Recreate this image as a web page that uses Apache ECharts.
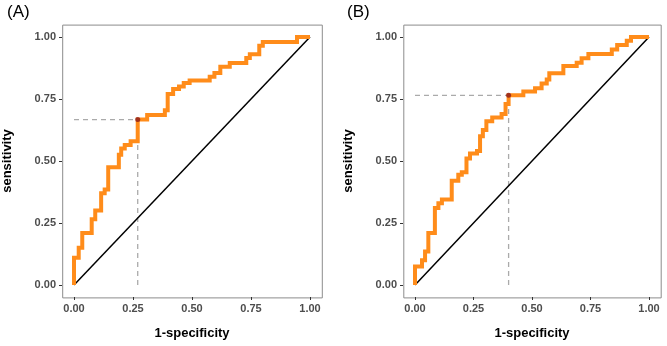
<!DOCTYPE html>
<html>
<head>
<meta charset="utf-8">
<script src="https://cdn.jsdelivr.net/npm/echarts@6/dist/echarts.min.js"></script>
<style>
  html, body { margin: 0; padding: 0; background: #fff; }
  #chart { width: 667px; height: 346px; }
</style>
</head>
<body>
<div id="chart"></div>
<script>
// ROC curve corner points, panel A
const fprA = [0, 0, 0.02, 0.02, 0.035, 0.035, 0.075, 0.075, 0.09, 0.09, 0.115, 0.115, 0.13, 0.13,
  0.145, 0.145, 0.19, 0.19, 0.20, 0.20, 0.215, 0.215, 0.24, 0.24, 0.27, 0.27, 0.31, 0.31,
  0.385, 0.385, 0.397, 0.397, 0.42, 0.42, 0.445, 0.445, 0.465, 0.465, 0.49, 0.49, 0.575, 0.575,
  0.595, 0.595, 0.62, 0.62, 0.66, 0.66, 0.73, 0.73, 0.745, 0.745, 0.785, 0.785, 0.80, 0.80,
  0.945, 0.945, 1];
const tprA = [0, 0.11, 0.11, 0.15, 0.15, 0.21, 0.21, 0.265, 0.265, 0.30, 0.30, 0.37, 0.37, 0.385,
  0.385, 0.475, 0.475, 0.525, 0.525, 0.55, 0.55, 0.565, 0.565, 0.58, 0.58, 0.667, 0.667, 0.685,
  0.685, 0.705, 0.705, 0.77, 0.77, 0.79, 0.79, 0.80, 0.80, 0.815, 0.815, 0.825, 0.825, 0.84,
  0.84, 0.855, 0.855, 0.88, 0.88, 0.895, 0.895, 0.915, 0.915, 0.93, 0.93, 0.965, 0.965, 0.98,
  0.98, 1, 1];
const cutA = [0.27, 0.667];

// panel B
const fprB = [0, 0, 0.03, 0.03, 0.043, 0.043, 0.057, 0.057, 0.085, 0.085, 0.10, 0.10, 0.115, 0.115,
  0.157, 0.157, 0.185, 0.185, 0.20, 0.20, 0.22, 0.22, 0.235, 0.235, 0.265, 0.265, 0.278, 0.278,
  0.29, 0.29, 0.305, 0.305, 0.33, 0.33, 0.37, 0.37, 0.387, 0.387, 0.40, 0.40, 0.463, 0.463,
  0.513, 0.513, 0.541, 0.541, 0.563, 0.563, 0.574, 0.574, 0.634, 0.634, 0.691, 0.691, 0.712, 0.712,
  0.741, 0.741, 0.841, 0.841, 0.864, 0.864, 0.905, 0.905, 0.923, 0.923, 1];
const tprB = [0, 0.075, 0.075, 0.10, 0.10, 0.135, 0.135, 0.21, 0.21, 0.31, 0.31, 0.33, 0.33, 0.345,
  0.345, 0.42, 0.42, 0.445, 0.445, 0.455, 0.455, 0.51, 0.51, 0.53, 0.53, 0.54, 0.54, 0.60,
  0.60, 0.625, 0.625, 0.66, 0.66, 0.675, 0.675, 0.69, 0.69, 0.73, 0.73, 0.765, 0.765, 0.78,
  0.78, 0.793, 0.793, 0.813, 0.813, 0.829, 0.829, 0.854, 0.854, 0.883, 0.883, 0.896, 0.896, 0.914,
  0.914, 0.931, 0.931, 0.95, 0.95, 0.968, 0.968, 0.985, 0.985, 1, 1];
const cutB = [0.40, 0.765];

const panelLabels = ['(A)', '(B)'];

const orange = '#ff8c1a';
const darkred = '#8b1a1a';
const frameColor = '#8c8c8c';
const font = 'Liberation Sans, Arial, Helvetica, sans-serif';

const grids = [
  { left: 74, top: 37, width: 236, height: 248 },
  { left: 415, top: 37, width: 234, height: 248 }
];

function zip(a, b) { return a.map((v, i) => [v, b[i]]); }

function axisCommon(i, name, gap) {
  return {
    gridIndex: i, type: 'value', min: 0, max: 1, interval: 0.25, offset: 12,
    name: name, nameLocation: 'middle', nameGap: gap,
    nameTextStyle: { fontFamily: font, fontSize: 13, fontWeight: 'bold', color: '#000' },
    axisLine: { show: false, onZero: false },
    axisTick: { show: true, inside: false, length: 3, lineStyle: { color: '#333' } },
    axisLabel: { margin: 6, fontFamily: font, fontSize: 11, fontWeight: 'bold', color: '#4d4d4d',
      formatter: v => v.toFixed(2) },
    splitLine: { show: false }
  };
}

function panelSeries(i, fpr, tpr, cut) {
  const dash = { color: '#aaaaaa', width: 1.3, type: [5, 4] };
  return [
    { type: 'line', xAxisIndex: i, yAxisIndex: i, data: [[0, cut[1]], [cut[0], cut[1]]],
      showSymbol: false, lineStyle: dash, silent: true, z: 1 },
    { type: 'line', xAxisIndex: i, yAxisIndex: i, data: [[cut[0], 0], [cut[0], cut[1]]],
      showSymbol: false, lineStyle: dash, silent: true, z: 1 },
    { type: 'line', xAxisIndex: i, yAxisIndex: i, data: [[0, 0], [1, 1]],
      showSymbol: false, lineStyle: { color: '#000', width: 1.5 }, silent: true, z: 2 },
    { type: 'line', xAxisIndex: i, yAxisIndex: i, data: zip(fpr, tpr),
      showSymbol: false, lineStyle: { color: orange, width: 4, join: 'miter' }, silent: true, z: 3 },
    { type: 'scatter', xAxisIndex: i, yAxisIndex: i, data: [cut],
      symbolSize: 5, itemStyle: { color: darkred }, silent: true, z: 4 }
  ];
}

const chart = echarts.init(document.getElementById('chart'), null, { renderer: 'canvas' });

const frames = grids.map(g => ({
  type: 'rect', silent: true, z: 0,
  shape: { x: g.left - g.width * 0.05 + 0.5, y: g.top - g.height * 0.05 + 0.5,
    width: g.width * 1.1, height: g.height * 1.1 },
  style: { fill: 'none', stroke: frameColor, lineWidth: 1 }
}));
const labels = panelLabels.map((t, i) => ({
  type: 'text', silent: true,
  left: i === 0 ? 7 : 347, top: 4,
  style: { text: t, font: '17px ' + font, fill: '#000' }
}));

chart.setOption({
  animation: false,
  backgroundColor: '#fff',
  grid: grids,
  xAxis: [axisCommon(0, '1-specificity', 30), axisCommon(1, '1-specificity', 30)],
  yAxis: [axisCommon(0, 'sensitivity', 48), axisCommon(1, 'sensitivity', 48)],
  graphic: frames.concat(labels),
  series: panelSeries(0, fprA, tprA, cutA).concat(panelSeries(1, fprB, tprB, cutB))
});
</script>
</body>
</html>
